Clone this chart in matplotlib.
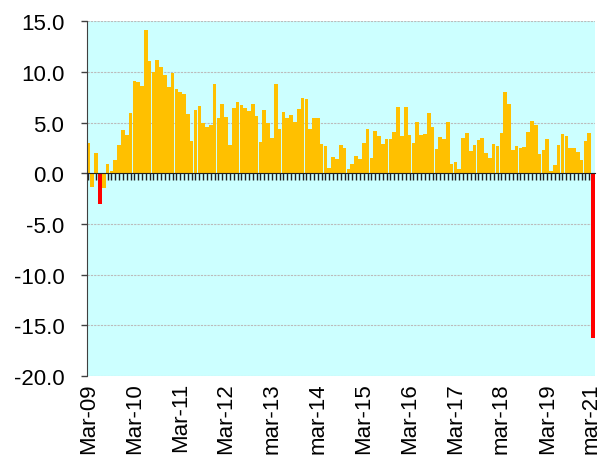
import matplotlib
matplotlib.use('Agg')
import matplotlib.pyplot as plt
import matplotlib.transforms as mtrans

plt.rcParams['font.family'] = ['Liberation Sans', 'DejaVu Sans']

# monthly values, Mar-09 .. mar-21
values = [3.0, -1.4, 2.0, -3.0, -1.5, 0.9, 0.2, 1.3, 2.8, 4.3, 3.8, 5.9,
          9.1, 9.0, 8.6, 14.1, 11.1, 10.0, 11.2, 10.5, 9.7, 8.5, 9.9, 8.3,
          8.0, 7.8, 5.8, 3.2, 6.2, 6.6, 5.0, 4.6, 4.8, 8.8, 5.4, 6.8,
          5.5, 2.8, 6.4, 7.0, 6.7, 6.4, 6.1, 6.8, 5.6, 3.1, 6.2, 5.0,
          3.5, 8.8, 4.4, 6.0, 5.4, 5.7, 5.1, 6.3, 7.4, 7.3, 4.4, 5.4,
          5.4, 2.9, 2.7, 0.5, 1.6, 1.4, 2.8, 2.5, 0.4, 0.95, 1.7, 1.4,
          3.0, 4.4, 1.5, 4.2, 3.7, 2.9, 3.4, 3.4, 4.1, 6.5, 3.7, 6.5,
          3.8, 3.0, 5.1, 3.8, 3.9, 5.9, 4.6, 2.4, 3.6, 3.4, 5.1, 0.9,
          1.1, 0.4, 3.5, 4.0, 2.2, 2.8, 3.3, 3.5, 2.0, 1.5, 2.9, 2.7,
          4.0, 8.0, 6.8, 2.3, 2.7, 2.5, 2.6, 4.1, 5.2, 4.8, 1.9, 2.3,
          3.4, 0.2, 0.85, 2.8, 3.9, 3.7, 2.5, 2.5, 2.1, 1.3, 3.2, 4.0,
          -16.2]
red_months = [3, 132]
tick_labels = ['Mar-09', 'Mar-10', 'Mar-11', 'Mar-12', 'mar-13', 'mar-14',
               'Mar-15', 'Mar-16', 'Mar-17', 'mar-18', 'Mar-19', 'mar-21']
label_step = 12

fig = plt.figure(figsize=(6.01, 4.60), dpi=100)
ax = fig.add_axes([0.144, 0.180, 0.846, 0.772])
ax.set_facecolor('#CCFFFF')

x = list(range(len(values)))
colors = ['#FF0000' if i in red_months else '#FFC000' for i in x]
ax.bar(x, values, width=0.95, color=colors, zorder=2)

ax.set_xlim(-0.5, len(values) - 0.5)
ax.set_ylim(-20, 15)
ax.set_yticks(range(-20, 16, 5))
ax.set_yticklabels(['%.1f' % v for v in range(-20, 16, 5)], fontsize=16)
ax.yaxis.grid(True, color='#BBBBBB', linestyle=(0, (2, 1)), linewidth=0.8, zorder=1)

# x axis crosses at zero, labels sit under the plot
for s in ['top', 'right']:
    ax.spines[s].set_visible(False)
ax.spines['left'].set_color('#404040')
ax.spines['bottom'].set_position(('data', 0))
ax.spines['bottom'].set_color('#202020')
ax.spines['bottom'].set_zorder(3)
ax.set_xticks(x)
ax.tick_params(axis='x', direction='out', length=5, width=1, color='#202020', labelbottom=False)
ax.tick_params(axis='y', direction='out', length=4, width=1, color='#404040', pad=12)

trans = mtrans.blended_transform_factory(ax.transData, ax.transAxes)
for k, lab in enumerate(tick_labels):
    pos = k * label_step
    if pos >= len(values) - 1:
        pos -= 0.6   # keep the last label inside the figure
    ax.text(pos, -0.017, lab, transform=trans, rotation=90,
            ha='center', va='top', fontsize=16)

fig.savefig('out.png', dpi=100)
